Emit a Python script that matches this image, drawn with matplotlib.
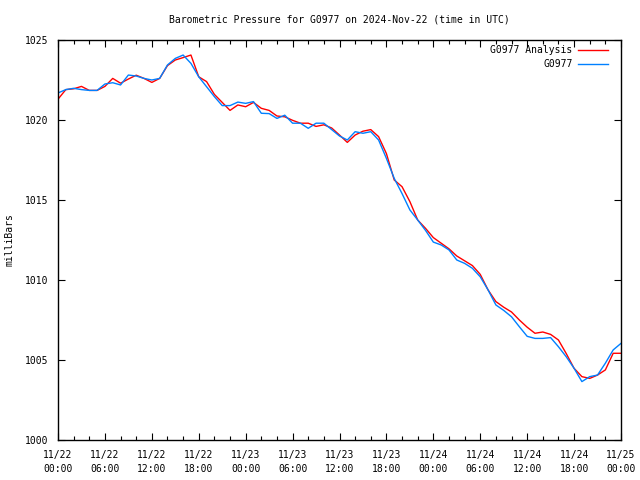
import matplotlib
matplotlib.use('Agg')
import matplotlib.pyplot as plt
from matplotlib.ticker import MultipleLocator

# hours since 2024-11-22 00:00 UTC
hours = list(range(0, 73))

obs = [1021.69, 1021.90, 1021.98, 1021.90, 1021.85, 1021.85, 1022.25, 1022.33, 1022.19, 1022.81,
       1022.75, 1022.60, 1022.50, 1022.60, 1023.44, 1023.85, 1024.06, 1023.54, 1022.70, 1022.08,
       1021.46, 1020.90, 1020.90, 1021.12, 1021.04, 1021.15, 1020.42, 1020.40, 1020.10, 1020.30,
       1019.80, 1019.80, 1019.48, 1019.80, 1019.80, 1019.40, 1019.00, 1018.75, 1019.27, 1019.17,
       1019.27, 1018.75, 1017.60, 1016.35, 1015.40, 1014.38, 1013.75, 1013.10, 1012.37, 1012.19,
       1011.88, 1011.25, 1011.04, 1010.73, 1010.20, 1009.38, 1008.44, 1008.10, 1007.70, 1007.08,
       1006.48, 1006.35, 1006.35, 1006.40, 1005.83, 1005.20, 1004.48, 1003.65, 1003.96, 1004.06,
       1004.80, 1005.63, 1006.04]

# G0977 analysis (mb)
ana = [1021.30, 1021.90, 1021.95, 1022.10, 1021.85, 1021.85, 1022.10, 1022.60, 1022.30, 1022.56,
       1022.80, 1022.60, 1022.35, 1022.60, 1023.40, 1023.75, 1023.90, 1024.06, 1022.70, 1022.40,
       1021.60, 1021.10, 1020.60, 1020.94, 1020.83, 1021.10, 1020.73, 1020.60, 1020.25, 1020.20,
       1019.98, 1019.80, 1019.80, 1019.60, 1019.70, 1019.50, 1019.06, 1018.60, 1019.06, 1019.30,
       1019.40, 1018.96, 1017.90, 1016.25, 1015.83, 1014.90, 1013.75, 1013.23, 1012.65, 1012.30,
       1011.95, 1011.50, 1011.20, 1010.90, 1010.35, 1009.38, 1008.65, 1008.30, 1008.00, 1007.50,
       1007.05, 1006.67, 1006.75, 1006.60, 1006.25, 1005.40, 1004.48, 1003.96, 1003.85, 1004.06,
       1004.38, 1005.42, 1005.42]

tick_hours = list(range(0, 73, 6))
tick_labels = ['11/22\n00:00', '11/22\n06:00', '11/22\n12:00', '11/22\n18:00',
               '11/23\n00:00', '11/23\n06:00', '11/23\n12:00', '11/23\n18:00',
               '11/24\n00:00', '11/24\n06:00', '11/24\n12:00', '11/24\n18:00',
               '11/25\n00:00']

plt.rcParams['font.family'] = 'DejaVu Sans Mono'
plt.rcParams['font.size'] = 7

fig = plt.figure(figsize=(6.4, 4.8), dpi=100)
ax = fig.add_axes([58/640, 40/480, (621-58)/640, 400/480])

ax.plot(hours, ana, color='#ff0000', lw=1.0, label='G0977 Analysis')
ax.plot(hours, obs, color='#0080ff', lw=1.0, label='G0977')

ax.set_xlim(0, 72)
ax.set_ylim(1000, 1025)
ax.set_xticks(tick_hours)
ax.set_xticklabels(tick_labels, linespacing=1.5)
ax.xaxis.set_minor_locator(MultipleLocator(2))
ax.set_yticks([1000, 1005, 1010, 1015, 1020, 1025])
ax.tick_params(which='both', direction='in', top=True, right=True, color='black')
ax.tick_params(which='major', length=5, width=0.8, pad=7)
ax.tick_params(which='minor', length=3, width=0.8)
for s in ax.spines.values():
    s.set_linewidth(1.0)

fig.text(10/640, 240/480, 'milliBars', rotation=90, ha='center', va='center')
fig.text(339/640, 1 - 20/480, 'Barometric Pressure for G0977 on 2024-Nov-22 (time in UTC)',
         ha='center', va='center')

ax.legend(loc='upper right', bbox_to_anchor=(1 - 8/563, 1.0), frameon=False,
          markerfirst=False, handlelength=3.0, borderaxespad=0.25, labelspacing=0.4,
          handletextpad=0.6, borderpad=0.3)

fig.savefig('out.png', dpi=100)
